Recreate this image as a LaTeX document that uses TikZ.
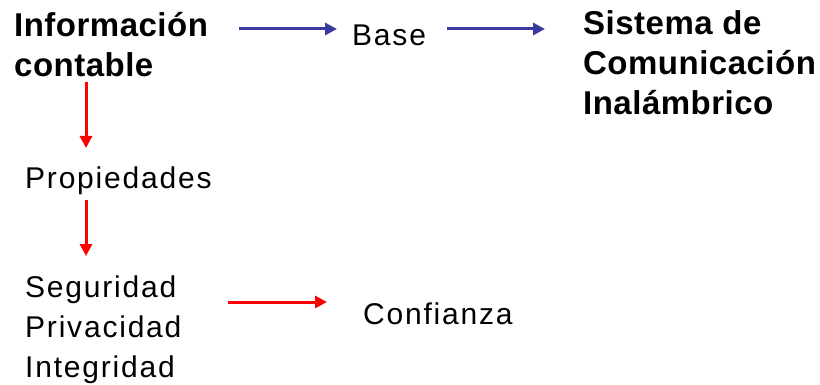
\documentclass[tikz,border=0pt]{standalone}
\usepackage{fontspec}
\setmainfont{Liberation Sans}
\usetikzlibrary{arrows.meta}
\definecolor{arrblue}{RGB}{58,58,160}
\definecolor{arrred}{RGB}{255,0,0}
\tikzset{
  boldtxt/.style={anchor=base west, inner sep=0pt, align=left,
    font=\fontsize{33}{40}\selectfont\bfseries\addfontfeatures{LetterSpace=1.5}},
  regtxt/.style={anchor=base west, inner sep=0pt, align=left,
    font=\fontsize{30}{40}\selectfont\addfontfeatures{LetterSpace=6}},
  bluearr/.style={draw=arrblue, line width=3pt, -{Triangle[length=12pt,width=12pt]}},
  redarr/.style={draw=arrred, line width=3pt, -{Triangle[length=12pt,width=12pt]}},
}
\begin{document}
\begin{tikzpicture}[x=1pt,y=-1pt]
\useasboundingbox (0,0) rectangle (820,385);
\node[boldtxt] (info) at (14,77) {Información\\contable};
\node[regtxt] (base) at (352,46) {Base};
\node[boldtxt] (sist) at (583,115) {Sistema de\\Comunicación\\Inalámbrico};
\node[regtxt] (prop) at (25,189) {Propiedades};
\node[regtxt] (seg) at (25,377) {Seguridad\\Privacidad\\Integridad};
\node[regtxt] (conf) at (363,324) {Confianza};
\coordinate (a1s) at (239,29); \coordinate (a1e) at (337,29);
\coordinate (a2s) at (447,29); \coordinate (a2e) at (545,29);
\draw[bluearr] (a1s) -- (a1e);
\draw[bluearr] (a2s) -- (a2e);
\coordinate (v1s) at (86,82); \coordinate (v1e) at (86,148);
\coordinate (v2s) at (86,200); \coordinate (v2e) at (86,256);
\draw[redarr] (v1s) -- (v1e);
\draw[redarr] (v2s) -- (v2e);
\coordinate (h1s) at (228,302); \coordinate (h1e) at (327,302);
\draw[redarr] (h1s) -- (h1e);
\end{tikzpicture}
\end{document}
